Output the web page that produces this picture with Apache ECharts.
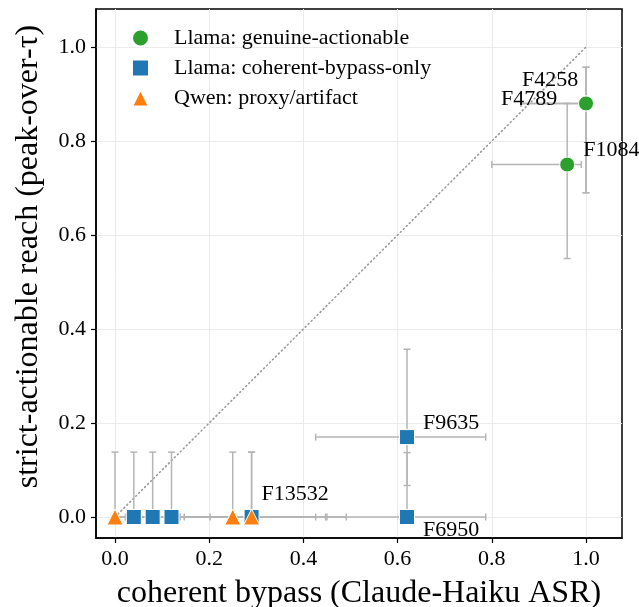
<!DOCTYPE html>
<html>
<head>
<meta charset="utf-8">
<script src="https://cdn.jsdelivr.net/npm/echarts@6/dist/echarts.min.js"></script>
<style>
  html, body { margin: 0; padding: 0; background: #fff; }
  #chart { width: 639px; height: 607px; }
</style>
</head>
<body>
<div id="chart"></div>
<script>
  // ---- values ----
  const tickValues = [0, 0.2, 0.4, 0.6, 0.8, 1.0];

  // Llama: genuine-actionable
  const genuineNames = ['F4258', 'F4789', 'F1084'];
  const genuineX   = [1.0, 1.0, 0.96];
  const genuineY   = [0.88, 0.88, 0.75];
  const genuineXLo = [0.862, 0.862, 0.80];
  const genuineXHi = [1.0, 1.0, 0.99];
  const genuineYLo = [0.69, 0.69, 0.55];
  const genuineYHi = [0.957, 0.957, 0.88];

  // Llama: coherent-bypass-only
  const bypassNames = ['', '', '', 'F13532', 'F9635', 'F6950'];
  const bypassX   = [0.04, 0.08, 0.12, 0.29, 0.62, 0.62];
  const bypassY   = [0, 0, 0, 0, 0.17, 0];
  const bypassXLo = [0.007, 0.022, 0.042, 0.138, 0.426, 0.45];
  const bypassXHi = [0.202, 0.25, 0.305, 0.447, 0.787, 0.787];
  const bypassYLo = [0, 0, 0, 0, 0.067, 0];
  const bypassYHi = [0.138, 0.138, 0.138, 0.138, 0.357, 0.137];

  // Qwen: proxy/artifact
  const qwenX   = [0.0, 0.25, 0.29];
  const qwenY   = [0, 0, 0];
  const qwenXLo = [0, 0.12, 0.147];
  const qwenXHi = [0.138, 0.426, 0.491];
  const qwenYLo = [0, 0, 0];
  const qwenYHi = [0.138, 0.138, 0.138];

  // label nudges (px) for the annotated features
  const labelNudge = {
    F4258: [-64, -23], F4789: [-85, -4], F1084: [16, -14],
    F13532: [10, -23], F9635: [16, -14], F6950: [16, 13]
  };

  const FONT = '"Liberation Serif", "Times New Roman", serif';
  const ERR = '#b5b5b5';

  function zipPts(xs, ys) { return xs.map((x, i) => [x, ys[i]]); }
  function zipErr(xs, ys, xl, xh, yl, yh) {
    return xs.map((x, i) => [x, ys[i], xl[i], xh[i], yl[i], yh[i]]);
  }

  const errData = []
    .concat(zipErr(genuineX, genuineY, genuineXLo, genuineXHi, genuineYLo, genuineYHi))
    .concat(zipErr(bypassX, bypassY, bypassXLo, bypassXHi, bypassYLo, bypassYHi))
    .concat(zipErr(qwenX, qwenY, qwenXLo, qwenXHi, qwenYLo, qwenYHi));

  const annData = [];
  genuineNames.forEach((n, i) => { if (n) annData.push([genuineX[i], genuineY[i], n]); });
  bypassNames.forEach((n, i) => { if (n) annData.push([bypassX[i], bypassY[i], n]); });

  function errorBars(params, api) {
    const c = api.coord([api.value(0), api.value(1)]);
    const l = api.coord([api.value(2), api.value(1)]);
    const r = api.coord([api.value(3), api.value(1)]);
    const b = api.coord([api.value(0), api.value(4)]);
    const t = api.coord([api.value(0), api.value(5)]);
    const cap = 3.5;
    const st = { stroke: ERR, lineWidth: 1.5 };
    const seg = (x1, y1, x2, y2) => ({ type: 'line', shape: { x1, y1, x2, y2 }, style: st });
    return {
      type: 'group',
      children: [
        seg(l[0], c[1], r[0], c[1]),
        seg(l[0], c[1] - cap, l[0], c[1] + cap),
        seg(r[0], c[1] - cap, r[0], c[1] + cap),
        seg(c[0], b[1], c[0], t[1]),
        seg(c[0] - cap, b[1], c[0] + cap, b[1]),
        seg(c[0] - cap, t[1], c[0] + cap, t[1])
      ]
    };
  }

  function annotate(params, api) {
    const p = api.coord([api.value(0), api.value(1)]);
    const name = annData[params.dataIndex][2];
    const d = labelNudge[name] || [10, -12];
    return {
      type: 'text',
      x: p[0] + d[0], y: p[1] + d[1],
      style: { text: name, font: '22px ' + FONT, fill: '#000', align: 'left', verticalAlign: 'middle' }
    };
  }

  const chart = echarts.init(document.getElementById('chart'));
  const axisCommon = {
    type: 'value',
    axisLine: { show: true, onZero: false, lineStyle: { color: '#000', width: 1.5 } },
    axisTick: { show: true, length: 5, lineStyle: { color: '#000', width: 1.2 }, customValues: tickValues },
    axisLabel: { customValues: tickValues, formatter: v => v.toFixed(1), color: '#000',
                 fontFamily: FONT, fontSize: 22, margin: 10 },
    splitLine: { show: true, lineStyle: { color: '#ebebeb', width: 1 } },
    nameLocation: 'middle'
  };

  chart.setOption({
    animation: false,
    backgroundColor: '#fff',
    grid: {
      left: 96, top: 9, right: 17, bottom: 69, outerBoundsMode: 'none',
      show: true, borderColor: '#000', borderWidth: 1.5
    },
    xAxis: Object.assign({}, axisCommon, {
      min: -0.0403, max: 1.0764,
      name: 'coherent bypass (Claude-Haiku ASR)', nameGap: 40,
      nameTextStyle: { fontFamily: FONT, fontSize: 32, color: '#000' }
    }),
    yAxis: Object.assign({}, axisCommon, {
      min: -0.0447, max: 1.081,
      name: 'strict-actionable reach (peak-over-\u03c4)', nameGap: 51,
      nameTextStyle: { fontFamily: FONT, fontSize: 32, color: '#000', padding: [0, 0, 0, 34] }
    }),
    legend: {
      orient: 'vertical', left: 126, top: 22,
      itemWidth: 17, itemHeight: 17, itemGap: 8,
      textStyle: { fontFamily: FONT, fontSize: 22, color: '#000', padding: [0, 0, 0, 20] },
      data: [
        { name: 'Llama: genuine-actionable', icon: 'circle' },
        { name: 'Llama: coherent-bypass-only', icon: 'rect' },
        { name: 'Qwen: proxy/artifact', icon: 'triangle' }
      ]
    },
    series: [
      {
        type: 'line', data: [[0, 0], [1, 1]], symbol: 'none', z: 1,
        lineStyle: { color: '#999', width: 1.6, type: [1, 3.2], cap: 'round' }
      },
      { type: 'custom', renderItem: errorBars, data: errData, z: 2, silent: true },
      {
        name: 'Llama: genuine-actionable', type: 'scatter', symbol: 'circle', symbolSize: 15, z: 5,
        itemStyle: { color: '#2ca02c', borderColor: '#fff', borderWidth: 1, opacity: 1 },
        data: zipPts(genuineX, genuineY)
      },
      {
        name: 'Llama: coherent-bypass-only', type: 'scatter', symbol: 'rect', symbolSize: 15, z: 5,
        itemStyle: { color: '#1f77b4', borderColor: '#fff', borderWidth: 1, opacity: 1 },
        data: zipPts(bypassX, bypassY)
      },
      {
        name: 'Qwen: proxy/artifact', type: 'scatter', symbol: 'triangle', symbolSize: 16, z: 6,
        itemStyle: { color: '#ff7f0e', borderColor: '#fff', borderWidth: 1, opacity: 1 },
        data: zipPts(qwenX, qwenY)
      },
      { type: 'custom', renderItem: annotate, data: annData, z: 7, silent: true, clip: false }
    ]
  });
</script>
</body>
</html>
